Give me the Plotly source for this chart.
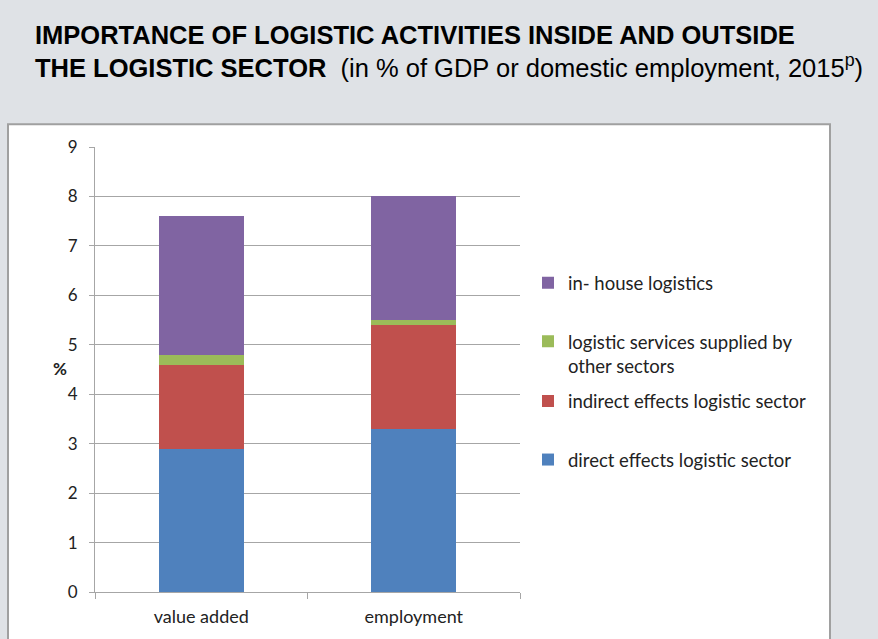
import plotly.graph_objects as go

categories = ["value added", "employment"]
direct = [2.9, 3.3]
indirect = [1.7, 2.1]
services = [0.2, 0.1]
inhouse = [2.8, 2.5]

series_names = [
    "direct effects logistic sector",
    "indirect effects logistic sector",
    "logistic services supplied by<br>other sectors",
    "in- house logistics",
]
series_values = [direct, indirect, services, inhouse]
colors = ["#4F81BD", "#C0504D", "#9BBB59", "#8064A2"]

W, H = 878, 639
L, R, T, B = 95, 520, 147, 595

# each legend entry gets its own legend box so the vertical spacing matches
legend_ids = ["legend", "legend2", "legend3", "legend4"]
legend_tops = [443, 384, 324, 265]  # pixel tops (blue, red, green, purple)

fig = go.Figure()
for name, vals, col, lid in zip(series_names, series_values, colors, legend_ids):
    fig.add_trace(go.Bar(
        x=categories, y=vals, name=name, marker=dict(color=col, line=dict(width=0)),
        width=0.4, legend=lid,
    ))

legend_layout = {}
for lid, top in zip(legend_ids, legend_tops):
    legend_layout[lid] = dict(
        x=(528 - L) / (R - L), xanchor="left",
        y=(B - top) / (B - T), yanchor="top",
        valign="top",
        font=dict(family="Lato", size=18.5, color="#222222"),
        bgcolor="rgba(0,0,0,0)", itemwidth=30,
    )

fig.update_layout(
    width=W, height=H,
    barmode="stack",
    paper_bgcolor="#DFE2E6",
    plot_bgcolor="white",
    margin=dict(l=L, r=W - R, t=T, b=H - B),
    font=dict(family="Lato", size=17, color="#222222"),
    showlegend=True,
    title=dict(
        text="<b>IMPORTANCE OF LOGISTIC ACTIVITIES INSIDE AND OUTSIDE</b><br>"
             "<b>THE LOGISTIC SECTOR</b>  (in % of GDP or domestic employment, 2015<sup>p</sup>)",
        x=35 / W, xanchor="left", xref="container",
        y=1 - 44 / H, yanchor="top", yref="container",
        font=dict(family="Liberation Sans", size=25.5, color="black"),
    ),
    **legend_layout,
)

fig.update_yaxes(
    range=[0, 9], dtick=1, showgrid=True, gridcolor="#A6A6A6", gridwidth=1,
    showline=True, linecolor="#A6A6A6", linewidth=1,
    ticks="outside", ticklen=5, tickcolor="#A6A6A6", ticklabelstandoff=8,
    tickfont=dict(family="Lato", size=17, color="#222222"),
    zeroline=False,
)
fig.update_xaxes(
    showline=True, linecolor="#A6A6A6", linewidth=1,
    ticks="outside", ticklen=6, tickcolor="#A6A6A6", tickson="boundaries",
    ticklabelstandoff=8,
    tickfont=dict(family="Lato", size=18, color="#222222"),
)

# white chart box
fig.add_shape(
    type="rect", xref="paper", yref="paper", layer="below",
    x0=(8 - L) / (R - L), x1=(830 - L) / (R - L),
    y0=(B - 660) / (B - T), y1=(B - 124) / (B - T),
    fillcolor="white", line=dict(color="#A0A0A0", width=2),
)

fig.add_annotation(
    text="<b>%</b>", xref="paper", yref="paper",
    x=(51 - L) / (R - L), y=(B - 370) / (B - T), showarrow=False,
    font=dict(family="Lato", size=17, color="#222222"),
)

fig.write_html("out.html")
